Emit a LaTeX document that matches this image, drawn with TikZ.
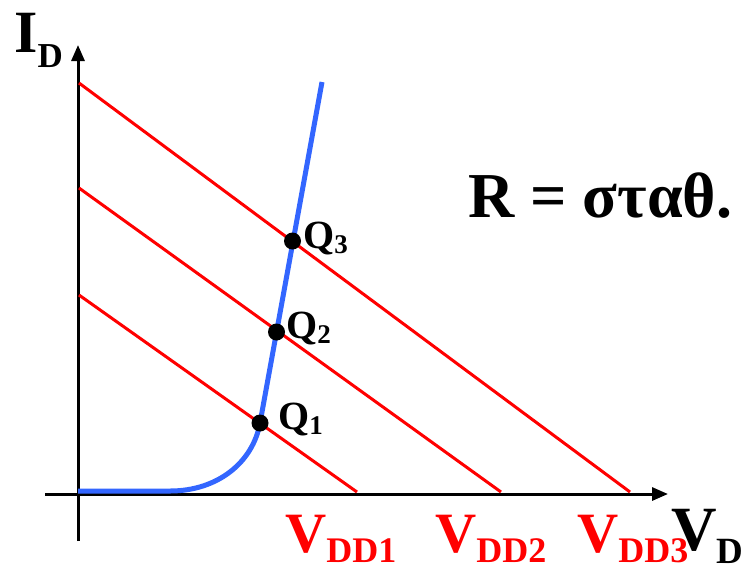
\documentclass[tikz,border=0pt]{standalone}
\usepackage{fontspec}
\setmainfont{Liberation Serif}
\usetikzlibrary{arrows.meta}
\begin{document}
\begin{tikzpicture}[x=1pt,y=-1pt,
  axis/.style={line width=3pt,-{Triangle[length=16pt,width=13pt]}},
  load/.style={red,line width=3pt},
  diode/.style={color={rgb,255:red,51;green,102;blue,255},line width=5pt},
  qdot/.style={circle,fill=black,inner sep=0pt,minimum size=17pt},
  txt/.style={inner sep=0pt,font=\bfseries}]
\useasboundingbox (0,0) rectangle (746,566);
% axes
\coordinate (xs) at (45,494);
\coordinate (xe) at (668,494);
\coordinate (ys) at (78,541);
\coordinate (ye) at (78,45);
\draw[axis] (xs) -- (xe);
\draw[axis] (ys) -- (ye);
% load lines
\coordinate (a1) at (79,295); \coordinate (b1) at (357,492);
\coordinate (a2) at (79,188); \coordinate (b2) at (501,492);
\coordinate (a3) at (79,83);  \coordinate (b3) at (630,492);
\draw[load] (a1) -- (b1);
\draw[load] (a2) -- (b2);
\draw[load] (a3) -- (b3);
% diode curve
\coordinate (d0) at (78,491);
\coordinate (d1) at (170,491);
\coordinate (q1) at (260,423);
\coordinate (q2) at (276.5,332);
\coordinate (q3) at (292.5,241);
\coordinate (dt) at (322,82);
\draw[diode] (d0) -- (d1) .. controls (218,491) and (253,462) .. (q1) -- (dt);
\node[qdot] (Q1) at (q1) {};
\node[qdot] (Q2) at (q2) {};
\node[qdot] (Q3) at (q3) {};
% labels
\node[txt,anchor=base west] (lQ1) at (278,429) {\fontsize{40}{40}\selectfont Q\raisebox{-5pt}{\fontsize{27}{27}\selectfont 1}};
\node[txt,anchor=base west] (lQ2) at (286,338) {\fontsize{40}{40}\selectfont Q\raisebox{-5pt}{\fontsize{27}{27}\selectfont 2}};
\node[txt,anchor=base west] (lQ3) at (303,248) {\fontsize{40}{40}\selectfont Q\raisebox{-5pt}{\fontsize{27}{27}\selectfont 3}};
\node[txt,anchor=base west] (ID) at (14,52) {\fontsize{60}{60}\selectfont I\raisebox{-15pt}{\fontsize{35}{35}\selectfont D}};
\node[txt,anchor=base west] (VD) at (671,550) {\fontsize{63}{63}\selectfont V\raisebox{-13pt}{\fontsize{37}{37}\selectfont D}};
\node[txt,anchor=base west,red] (V1) at (285,552) {\fontsize{57}{57}\selectfont V\raisebox{-10pt}{\fontsize{36}{36}\selectfont DD1}};
\node[txt,anchor=base west,red] (V2) at (435,552) {\fontsize{57}{57}\selectfont V\raisebox{-10pt}{\fontsize{36}{36}\selectfont DD2}};
\node[txt,anchor=base west,red] (V3) at (577,552) {\fontsize{57}{57}\selectfont V\raisebox{-10pt}{\fontsize{36}{36}\selectfont DD3}};
\node[txt,anchor=base west] (R) at (468,217) {\fontsize{64}{64}\selectfont R = σταθ.};
\end{tikzpicture}
\end{document}
